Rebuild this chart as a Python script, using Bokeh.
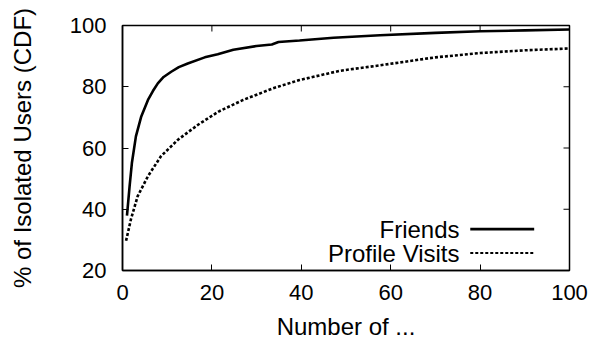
from bokeh.plotting import figure
from bokeh.models import Label, Arrow, FixedTicker, Range1d
from bokeh.embed import file_html
from bokeh.resources import INLINE

# ---- data ----
friends_x = [1.0, 1.6, 2.1, 3.0, 4.2, 5.7, 6.8, 7.9, 9.2, 10.9, 12.6, 14.6, 18.4, 21.3, 24.8,
             30.0, 33.4, 34.9, 39.6, 47.2, 57.6, 70.0, 80.0, 90.0, 100.0]
friends_y = [37.9, 47.7, 55.1, 63.8, 70.3, 75.7, 78.6, 81.1, 83.2, 84.9, 86.4, 87.6, 89.6, 90.6, 92.1,
             93.3, 93.8, 94.6, 95.1, 96.0, 96.8, 97.6, 98.1, 98.4, 98.7]

visits_x = [0.8, 1.9, 3.4, 5.7, 8.6, 12.4, 16.9, 21.5, 27.0, 33.7, 39.6, 48.6,
            57.6, 70.0, 80.0, 90.0, 100.0]
visits_y = [29.7, 36.8, 44.3, 50.8, 57.3, 62.7, 67.6, 71.9, 75.7, 79.5, 82.2, 85.2,
            87.0, 89.6, 91.0, 91.9, 92.5]

x_ticks = [0, 20, 40, 60, 80, 100]
y_ticks = [20, 40, 60, 80, 100]
series_names = ["Friends", "Profile Visits"]

FONT = "Liberation Sans"
FS = "22px"
LFS = "24px"
X0, X1, Y0, Y1 = 0, 100, 20, 100
W, H = 594, 347
ML, MR, MT, MB = 122, 25, 25, 77
TICK = 6  # px

p = figure(width=W, height=H, output_backend="svg", toolbar_location=None,
           x_range=Range1d(X0, X1), y_range=Range1d(Y0, Y1),
           min_border_left=ML, min_border_right=MR, min_border_top=MT, min_border_bottom=MB,
           x_axis_label="Number of ...", y_axis_label="% of Isolated Users (CDF)")
p.background_fill_color = "white"
p.border_fill_color = "white"
p.outline_line_color = "black"
p.outline_line_width = 1.5
p.grid.visible = False

for ax in (p.xaxis[0], p.yaxis[0]):
    ax.major_tick_in = TICK
    ax.major_tick_out = 0
    ax.minor_tick_in = 0
    ax.minor_tick_out = 0
    ax.axis_line_color = "black"
    ax.axis_line_width = 1.5
    ax.major_tick_line_width = 1
    ax.major_label_text_font = FONT
    ax.major_label_text_font_size = FS
    ax.major_label_text_color = "black"
    ax.axis_label_text_font = FONT
    ax.axis_label_text_font_size = LFS
    ax.axis_label_text_font_style = "normal"
    ax.axis_label_text_color = "black"

p.xaxis[0].ticker = FixedTicker(ticks=x_ticks)
p.yaxis[0].ticker = FixedTicker(ticks=y_ticks)
p.xaxis[0].major_label_standoff = 14
p.xaxis[0].axis_label_standoff = 10
p.yaxis[0].major_label_standoff = 16
p.yaxis[0].axis_label_standoff = 31

# mirrored tick marks on top and right edges (derived from tick lists)
fw = W - ML - MR
fh = H - MT - MB
dy = TICK * (Y1 - Y0) / fh
dx = TICK * (X1 - X0) / fw
inner_x = x_ticks[1:-1]
inner_y = y_ticks[1:-1]
p.segment(x0=inner_x, y0=[Y1] * len(inner_x), x1=inner_x, y1=[Y1 - dy] * len(inner_x),
          line_color="black", line_width=1)
p.segment(x0=[X1] * len(inner_y), y0=inner_y, x1=[X1 - dx] * len(inner_y), y1=inner_y,
          line_color="black", line_width=1)

p.line(friends_x, friends_y, line_color="black", line_width=2.6)
p.line(visits_x, visits_y, line_color="black", line_width=2.6, line_dash="3 2")

# legend (text left of sample line)
leg_text_x = 75.4
leg_line = (77.8, 92.1)
leg_y = [33.5, 25.7]
dashes = ["solid", "3 2"]
widths = [2.6, 2.0]
for name, yy, dash, w in zip(series_names, leg_y, dashes, widths):
    p.add_layout(Label(x=leg_text_x, y=yy, text=name, text_align="right",
                       text_baseline="middle", text_font=FONT, text_font_size=LFS,
                       text_color="black"))
    p.add_layout(Arrow(end=None, x_start=leg_line[0], y_start=yy, x_end=leg_line[1], y_end=yy,
                       line_color="black", line_width=w, line_dash=dash))

open("out.html", "w").write(file_html(p, INLINE))
